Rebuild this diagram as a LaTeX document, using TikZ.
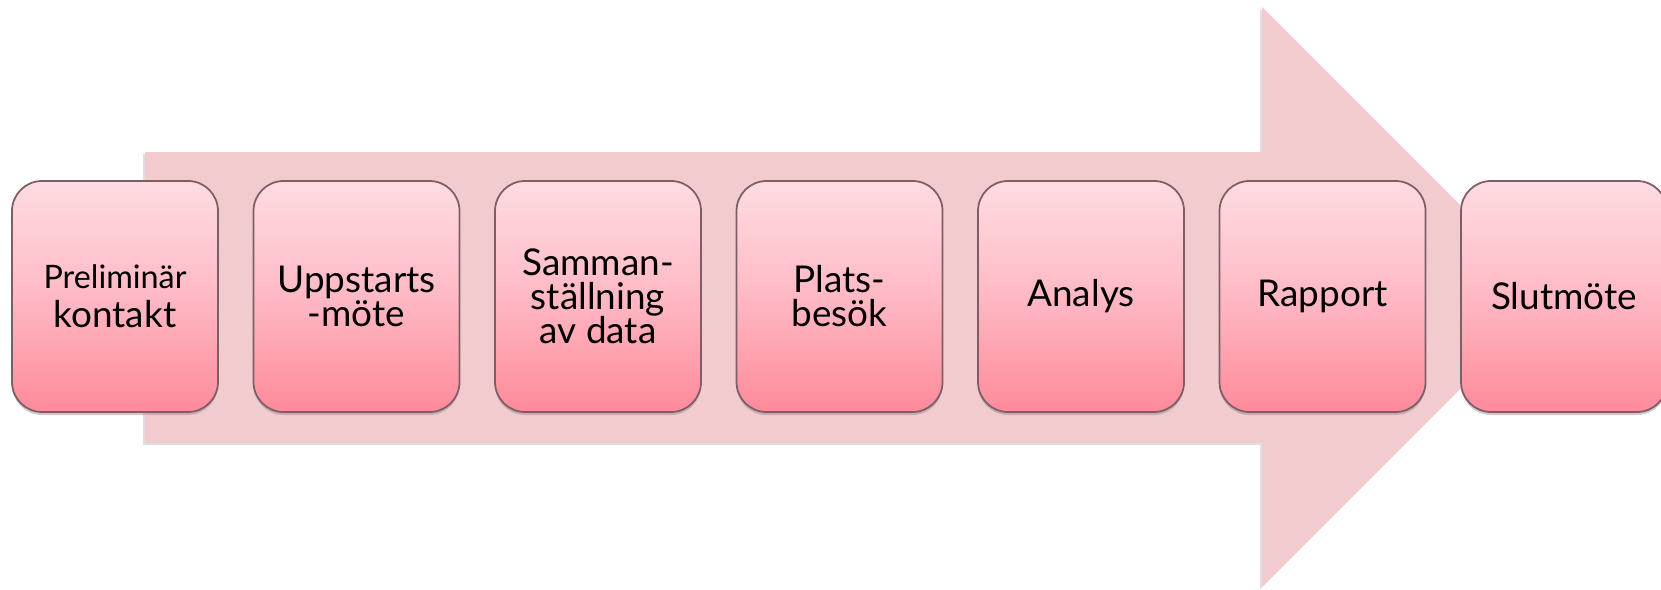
\documentclass[tikz,border=0pt]{standalone}
\usepackage{fontspec}
\setmainfont{Lato}
\usetikzlibrary{shadows}
\definecolor{arrowpink}{HTML}{F2CBCF}
\definecolor{boxtop}{HTML}{FFDCE2}
\definecolor{boxmid}{HTML}{FFB9C4}
\definecolor{boxbottom}{HTML}{FF8A9A}
\definecolor{boxline}{HTML}{7E5E66}
\begin{document}
\begin{tikzpicture}
		\tikzstyle{phase}=[rectangle,rounded corners=0.3cm,draw=boxline,line width=0.5pt,
			top color=boxtop,bottom color=boxbottom,middle color=boxmid,
			minimum width=2.06cm,minimum height=2.31cm,inner sep=0pt,align=center,
			font=\fontsize{10.5}{9.7}\selectfont,
			drop shadow={shadow xshift=0pt,shadow yshift=-0.03cm,opacity=0.4}]
		\useasboundingbox (0,0) rectangle (16.61,-5.89);
		\fill[arrowpink,drop shadow={shadow xshift=-0.02cm,shadow yshift=-0.02cm,opacity=0.25}]
			(1.45,-1.52) -- (12.62,-1.52) -- (12.62,-0.07) -- (15.52,-2.97)
			-- (12.62,-5.87) -- (12.62,-4.43) -- (1.45,-4.43) -- cycle;
		\node[phase] (p_1) at (1.15,-2.965) {{\fontsize{9.2}{9}\selectfont Preliminär}\\[1.5pt]kontakt};
		\node[phase] (p_2) at (3.565,-2.965) {Uppstarts\\-möte};
		\node[phase] (p_3) at (5.98,-2.965) {Samman-\\ställning\\av data};
		\node[phase] (p_4) at (8.395,-2.965) {Plats-\\besök};
		\node[phase] (p_5) at (10.81,-2.965) {\raisebox{-2pt}{Analys}};
		\node[phase] (p_6) at (13.225,-2.965) {\raisebox{-2pt}{Rapport}};
		\node[phase] (p_7) at (15.64,-2.965) {\raisebox{-2pt}{Slutmöte}};
	\end{tikzpicture}
\end{document}
